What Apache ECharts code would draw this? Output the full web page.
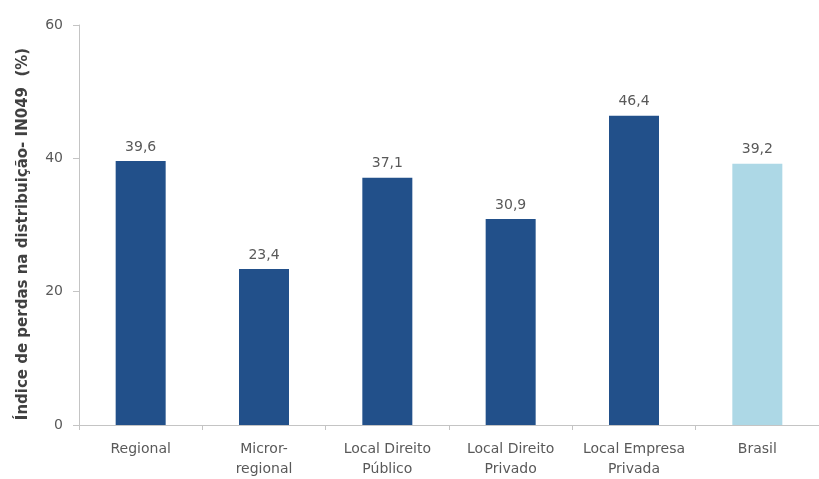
<!DOCTYPE html>
<html>
<head>
<meta charset="utf-8">
<script src="https://cdn.jsdelivr.net/npm/echarts@6/dist/echarts.min.js"></script>
<style>html,body{margin:0;padding:0;background:#fff}#c{width:819px;height:479px}</style>
</head>
<body>
<div id="c"></div>
<script>
const categories = ['Regional', 'Micror-\nregional', 'Local Direito\nPúblico', 'Local Direito\nPrivado', 'Local Empresa\nPrivada', 'Brasil'];
const values = [39.6, 23.4, 37.1, 30.9, 46.4, 39.2];
const barColors = ['#22508a', '#22508a', '#22508a', '#22508a', '#22508a', '#add8e6'];
const yTicks = [0, 20, 40, 60];

const chart = echarts.init(document.getElementById('c'), null, {renderer: 'canvas'});
const font = '"DejaVu Sans", sans-serif';
chart.setOption({
  animation: false,
  grid: {left: 79, right: -12, top: 25, bottom: 53},
  xAxis: {
    type: 'category',
    data: categories,
    axisLine: {lineStyle: {color: '#c4c4c4', width: 1}},
    axisTick: {show: true, interval: 0, length: 5, lineStyle: {color: '#c4c4c4'}},
    axisLabel: {interval: 0, color: '#595959', fontSize: 14, fontFamily: font, lineHeight: 20, margin: 14}
  },
  yAxis: {
    type: 'value',
    min: yTicks[0], max: yTicks[yTicks.length - 1], interval: 20,
    name: 'Índice de perdas na distribuição- IN049  (%)',
    nameLocation: 'middle',
    nameGap: 48,
    nameTextStyle: {color: '#404040', fontSize: 15, fontWeight: 'bold', fontFamily: font, padding: [0, 18, 0, 0]},
    axisLine: {show: true, lineStyle: {color: '#c4c4c4'}},
    axisTick: {show: true, length: 6, lineStyle: {color: '#c4c4c4'}},
    splitLine: {show: false},
    axisLabel: {color: '#595959', fontSize: 14, fontFamily: font, margin: 16}
  },
  series: [{
    type: 'bar',
    barWidth: 50,
    data: values.map((v, i) => ({value: v, itemStyle: {color: barColors[i]}})),
    label: {
      show: true, position: 'top', distance: 7,
      color: '#595959', fontSize: 14, fontFamily: font,
      formatter: p => String(p.value).replace('.', ',')
    }
  }]
});
</script>
</body>
</html>
